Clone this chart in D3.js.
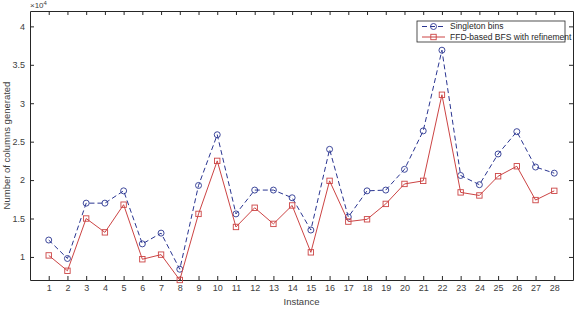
<!DOCTYPE html>
<html>
<head>
<meta charset="utf-8">
<script src="https://cdn.jsdelivr.net/npm/d3@7"></script>
<style>
  body { margin: 0; background: #fff; }
  svg { display: block; font-family: "Liberation Sans", Arial, sans-serif; }
</style>
</head>
<body>
<svg id="chart" width="579" height="311"></svg>
<script>
const instances = d3.range(1, 29)
const singletonBins = [1.22, 0.98, 1.70, 1.70, 1.86, 1.17, 1.31, 0.84, 1.93, 2.59,
    1.56, 1.87, 1.87, 1.77, 1.35, 2.40, 1.52, 1.86, 1.87, 2.14,
    2.64, 3.69, 2.06, 1.94, 2.34, 2.63, 2.17, 2.09]
const ffdRefined = [1.02, 0.82, 1.50, 1.32, 1.68, 0.97, 1.03, 0.70, 1.56, 2.25,
    1.39, 1.64, 1.43, 1.67, 1.06, 1.99, 1.46, 1.49, 1.69, 1.95,
    1.99, 3.11, 1.84, 1.80, 2.05, 2.18, 1.74, 1.86]
const yTicks = [1, 1.5, 2, 2.5, 3, 3.5, 4]
const seriesNames = ['Singleton bins', 'FFD-based BFS with refinement']

const svg = d3.select('#chart')
const margin = { top: 11, right: 6, bottom: 31, left: 30 }
const width = +svg.attr('width') - margin.left - margin.right
const height = +svg.attr('height') - margin.top - margin.bottom
const g = svg.append('g').attr('transform', `translate(${margin.left},${margin.top})`)

const blue = '#2a3591'
const red = '#cc4444'
const axisColor = '#262626'
const labelColor = '#404040'

const x = d3.scaleLinear().domain([0, 29]).range([0, width])
const y = d3.scaleLinear().domain([0.7, 4.2]).range([height, 0])

// axes (inward ticks, MATLAB style box)
const styleAxis = sel => {
    sel.select('.domain').attr('stroke', axisColor)
    sel.selectAll('.tick line').attr('stroke', axisColor)
    sel.selectAll('.tick text').attr('fill', labelColor).style('font-size', '9px')
}
g.append('g')
    .attr('transform', `translate(0,${height})`)
    .call(d3.axisBottom(x).tickValues(instances).tickSize(-4).tickPadding(5).tickSizeOuter(0))
    .call(styleAxis)
g.append('g')
    .call(d3.axisTop(x).tickValues(instances).tickSize(-4).tickFormat('').tickSizeOuter(0))
    .call(styleAxis)
g.append('g')
    .call(d3.axisLeft(y).tickValues(yTicks).tickSize(-4).tickPadding(5).tickFormat(d3.format('')).tickSizeOuter(0))
    .call(styleAxis)
g.append('g')
    .attr('transform', `translate(${width},0)`)
    .call(d3.axisRight(y).tickValues(yTicks).tickSize(-4).tickFormat('').tickSizeOuter(0))
    .call(styleAxis)

// exponent label
svg.append('text')
    .attr('x', margin.left)
    .attr('y', 8)
    .attr('fill', labelColor)
    .style('font-size', '8px')
    .html('&#215;10<tspan dy="-3" style="font-size:6px">4</tspan>')

// axis titles
svg.append('text')
    .attr('x', margin.left + width / 2)
    .attr('y', 305)
    .attr('text-anchor', 'middle')
    .attr('fill', labelColor)
    .style('font-size', '9.5px')
    .text('Instance')
svg.append('text')
    .attr('transform', `translate(10,${margin.top + height / 2}) rotate(-90)`)
    .attr('text-anchor', 'middle')
    .attr('fill', labelColor)
    .style('font-size', '9.5px')
    .text('Number of columns generated')

const line = d3.line().x((d, i) => x(instances[i])).y(d => y(d))

// singleton bins: dashed + circles
g.append('path')
    .datum(singletonBins)
    .attr('fill', 'none')
    .attr('stroke', blue)
    .attr('stroke-width', 1)
    .attr('stroke-dasharray', '5,3')
    .attr('d', line)
g.selectAll('.circ')
    .data(singletonBins)
    .join('circle')
    .attr('cx', (d, i) => x(instances[i]))
    .attr('cy', d => y(d))
    .attr('r', 3)
    .attr('fill', 'none')
    .attr('stroke', blue)
    .attr('stroke-width', 0.9)

// ffd: solid + squares
g.append('path')
    .datum(ffdRefined)
    .attr('fill', 'none')
    .attr('stroke', red)
    .attr('stroke-width', 1)
    .attr('d', line)
g.selectAll('.sq')
    .data(ffdRefined)
    .join('rect')
    .attr('x', (d, i) => x(instances[i]) - 2.7)
    .attr('y', d => y(d) - 2.7)
    .attr('width', 5.4)
    .attr('height', 5.4)
    .attr('fill', 'none')
    .attr('stroke', red)
    .attr('stroke-width', 0.9)

// legend
const legend = svg.append('g').attr('transform', 'translate(417,21)')
legend.append('rect')
    .attr('width', 148)
    .attr('height', 21)
    .attr('fill', '#fff')
    .attr('stroke', axisColor)
    .attr('stroke-width', 0.8)
seriesNames.forEach((name, i) => {
    const row = legend.append('g').attr('transform', `translate(0,${5.5 + i * 10.5})`)
    row.append('line')
        .attr('x1', 5).attr('x2', 28)
        .attr('stroke', i === 0 ? blue : red)
        .attr('stroke-dasharray', i === 0 ? '5,3' : null)
    if (i === 0) {
        row.append('circle').attr('cx', 16.5).attr('r', 3)
            .attr('fill', 'none').attr('stroke', blue).attr('stroke-width', 0.9)
    } else {
        row.append('rect').attr('x', 13.8).attr('y', -2.7).attr('width', 5.4).attr('height', 5.4)
            .attr('fill', 'none').attr('stroke', red).attr('stroke-width', 0.9)
    }
    row.append('text')
        .attr('x', 33)
        .attr('dy', '0.35em')
        .attr('fill', axisColor)
        .style('font-size', '8.5px')
        .text(name)
})
</script>
</body>
</html>
